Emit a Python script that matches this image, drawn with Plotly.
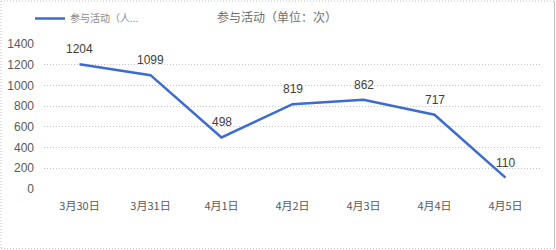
import plotly.graph_objects as go

categories = ["3月30日", "3月31日", "4月1日", "4月2日", "4月3日", "4月4日", "4月5日"]
values = [1204, 1099, 498, 819, 862, 717, 110]
series_name = "参与活动（人..."
title_text = "参与活动（单位：次）"
y_ticks = [0, 200, 400, 600, 800, 1000, 1200, 1400]

W, H = 556, 250
ML, MR, MT, MB = 44, 15, 44, 61
pw = W - ML - MR
ph = H - MT - MB

def px(X):
    return (X - ML) / pw

def py(Y):
    return (H - MB - Y) / ph

fig = go.Figure()
fig.add_trace(go.Scatter(
    x=categories, y=values, mode="lines", name=series_name,
    line=dict(color="#3D6CD0", width=2.5),
    cliponaxis=False,
))

annotations = [
    dict(x=c, y=v, text=str(v), showarrow=False, yshift=15, xref="x", yref="y",
         font=dict(family="Liberation Sans, Arial", size=12, color="#404040"))
    for c, v in zip(categories, values)
]

border = "#c0c0c0"
shapes = [
    dict(type="line", xref="paper", yref="paper", x0=px(1), x1=px(554.5), y0=py(1), y1=py(1),
         line=dict(color=border, width=1, dash="1px,2px")),
    dict(type="line", xref="paper", yref="paper", x0=px(1), x1=px(554.5), y0=py(248.5), y1=py(248.5),
         line=dict(color=border, width=1, dash="1px,2px")),
    dict(type="line", xref="paper", yref="paper", x0=px(1), x1=px(1), y0=py(1), y1=py(248.5),
         line=dict(color=border, width=1, dash="1px,2px")),
    dict(type="line", xref="paper", yref="paper", x0=px(554.5), x1=px(554.5), y0=py(1), y1=py(248.5),
         line=dict(color=border, width=1)),
]

fig.update_layout(
    width=W, height=H,
    margin=dict(l=ML, r=MR, t=MT, b=MB, autoexpand=False),
    paper_bgcolor="white", plot_bgcolor="white",
    font=dict(family="Liberation Sans, Noto Sans CJK SC", color="#595959"),
    title=dict(text=title_text, x=277 / W, xref="container", xanchor="center",
               y=1 - 18 / H, yref="container", yanchor="middle",
               font=dict(family="Noto Sans CJK SC", size=12, color="#6f6f6f")),
    showlegend=True,
    legend=dict(xref="container", yref="container", x=30 / W, y=1 - 4 / H,
                xanchor="left", yanchor="top", orientation="h",
                font=dict(family="Noto Sans CJK SC", size=10, color="#8a8a8a"),
                bgcolor="rgba(0,0,0,0)", itemwidth=30),
    shapes=shapes,
    annotations=annotations,
    xaxis=dict(range=[-0.5, 6.5], showgrid=False, showline=False, zeroline=False, ticks="",
               ticklabelstandoff=9,
               tickfont=dict(family="Noto Sans CJK SC", size=11, color="#595959")),
    yaxis=dict(range=[0, 1400], tickvals=y_ticks, showgrid=True, gridcolor="#c4c4c4",
               griddash="1px,2px", gridwidth=1, zeroline=False, showline=False, ticks="",
               ticklabelstandoff=9,
               tickfont=dict(family="Liberation Sans", size=12, color="#595959")),
)

fig.write_html("out.html")
